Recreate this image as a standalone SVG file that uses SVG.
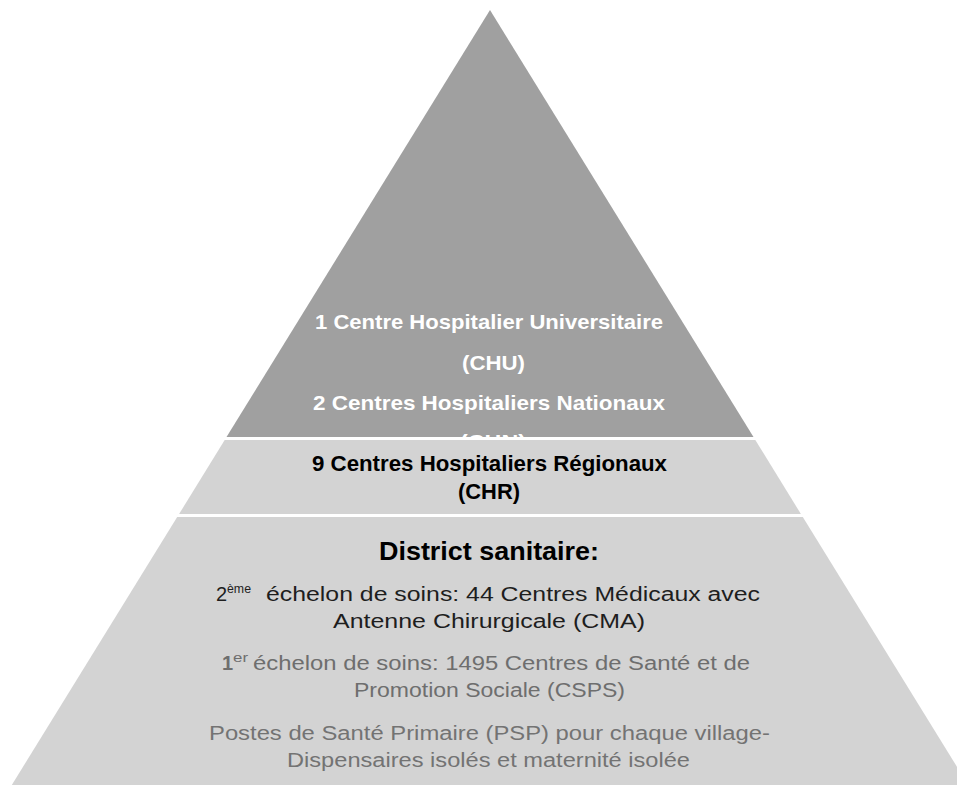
<svg xmlns="http://www.w3.org/2000/svg" width="957" height="785" viewBox="0 0 957 785">
<style>
text{font-family:"Liberation Sans",Arial,sans-serif}
.top{fill:#A0A0A0}
.light{fill:#D3D3D3}
.tw{fill:#FFFFFF;font-weight:bold;font-size:21px}
.tb{fill:#000000;font-weight:bold;font-size:22px}
.dk{fill:#1E1E1E;font-size:20px}
.g1{fill:#6E6E6E;font-size:20px}
.g2{fill:#737373;font-size:20px}
.sup{font-size:12px}
</style>
<defs>
<clipPath id="clipTop"><rect x="0" y="0" width="957" height="437"/></clipPath>
</defs>
<rect width="957" height="785" fill="#FFFFFF"/>
<g id="tier-top">
<polygon class="top" points="490,10 753.5,437 226.5,437"/>
<g clip-path="url(#clipTop)">
<text class="tw" x="315" y="329" textLength="348" lengthAdjust="spacingAndGlyphs">1 Centre Hospitalier Universitaire</text>
<text class="tw" x="462" y="370" textLength="63" lengthAdjust="spacingAndGlyphs">(CHU)</text>
<text class="tw" x="313" y="410" textLength="352" lengthAdjust="spacingAndGlyphs">2 Centres Hospitaliers Nationaux</text>
<text class="tw" x="460" y="449" textLength="66" lengthAdjust="spacingAndGlyphs">(CHN)</text>
</g>
</g>
<g id="tier-middle">
<polygon class="light" points="224.7,440 755.3,440 800.9,514 179.1,514"/>
<text class="tb" x="312" y="471" textLength="355" lengthAdjust="spacingAndGlyphs">9 Centres Hospitaliers Régionaux</text>
<text class="tb" x="458" y="499" textLength="62" lengthAdjust="spacingAndGlyphs">(CHR)</text>
</g>
<g id="tier-bottom">
<polygon class="light" points="177.2,517 802.8,517 968.2,785 11.8,785"/>
<text x="379" y="560" font-size="26" font-weight="bold" fill="#000000" textLength="220" lengthAdjust="spacingAndGlyphs">District sanitaire:</text>
<text class="dk" x="216" y="601">2</text>
<text class="dk sup" x="227" y="593" textLength="24" lengthAdjust="spacingAndGlyphs">ème</text>
<text class="dk" x="266" y="601" textLength="494" lengthAdjust="spacingAndGlyphs">échelon de soins: 44 Centres Médicaux avec</text>
<text class="dk" x="333" y="628" textLength="312" lengthAdjust="spacingAndGlyphs">Antenne Chirurgicale (CMA)</text>
<text class="g1" x="222" y="670" font-weight="bold" fill="#555555">1</text>
<text class="g1 sup" x="233" y="662" textLength="15" lengthAdjust="spacingAndGlyphs">er</text>
<text class="g1" x="253" y="670" textLength="497" lengthAdjust="spacingAndGlyphs">échelon de soins: 1495 Centres de Santé et de</text>
<text class="g1" x="354" y="697" textLength="271" lengthAdjust="spacingAndGlyphs">Promotion Sociale (CSPS)</text>
<text class="g2" x="209" y="740" textLength="561" lengthAdjust="spacingAndGlyphs">Postes de Santé Primaire (PSP) pour chaque village-</text>
<text class="g2" x="287" y="767" textLength="403" lengthAdjust="spacingAndGlyphs">Dispensaires isolés et maternité isolée</text>
</g>
<g id="connectors"/>
</svg>
